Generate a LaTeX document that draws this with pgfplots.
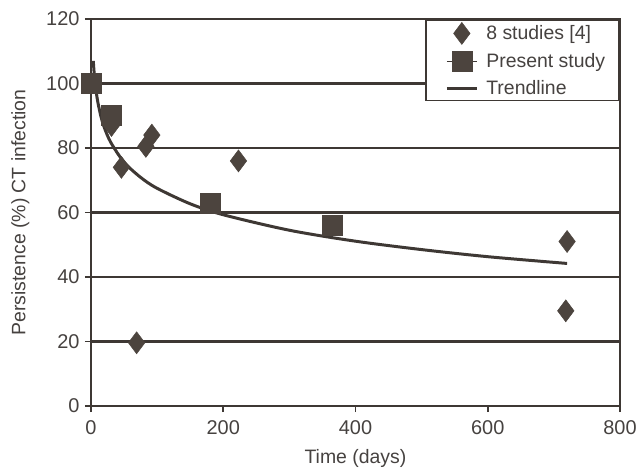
\documentclass[border=0pt]{standalone}
\usepackage{fontspec}
\setmainfont{Liberation Sans}
\usepackage{pgfplots}
\pgfplotsset{compat=1.18}
\definecolor{ink}{RGB}{62,56,52}
\definecolor{markfill}{RGB}{76,68,62}
\definecolor{txt}{RGB}{70,66,64}

\pgfplotsset{
    diamleg/.style={legend image code/.code={
        \path (-7bp,0bp) (36bp,0bp);
        \draw[##1] plot coordinates {(15bp,0bp)};}},
    squareleg/.style={legend image code/.code={
        \path (-7bp,0bp) (36bp,0bp);
        \draw[ink, line width=1.5pt] (0bp,0bp)--(30bp,0bp);
        \draw[##1] plot coordinates {(15bp,0bp)};}},
    trendleg/.style={legend image code/.code={
        \path (-7bp,0bp) (36bp,0bp);
        \draw[##1] (0bp,0bp)--(30bp,0bp);}},
}

\begin{document}
\begin{tikzpicture}
\useasboundingbox (-91bp,-64bp) rectangle (545bp,406bp);
\begin{axis}[
    at={(0,0)}, anchor=south west,
    scale only axis,
    width=529bp, height=387bp,
    xmin=0, xmax=800, ymin=0, ymax=120,
    xtick={0,200,400,600,800},
    ytick={0,20,40,60,80,100,120},
    tick pos=left,
    tick align=outside,
    major tick length=6bp,
    tick style={ink, line width=1.6pt},
    axis line style={ink, line width=2.2pt},
    ymajorgrids,
    grid style={ink, line width=2.2pt},
    clip=false,
    tick label style={font=\fontsize{20}{24}\selectfont, text=txt},
    xticklabel style={yshift=-5bp},
    yticklabel style={xshift=-2bp},
    /pgf/number format/assume math mode=true,
    xlabel={Time (days)},
    ylabel={Persistence (\%) CT infection},
    label style={font=\fontsize{19.5}{23}\selectfont, text=txt},
    ylabel style={yshift=10bp},
    xlabel style={yshift=-8bp},
    legend style={
        at={(1,1)}, anchor=north east,
        draw=ink, line width=1.8pt,
        fill=white,
        font=\fontsize{19.5}{23}\selectfont,
        text=txt,
        row sep=7bp,
        inner xsep=12bp, inner ysep=2.5bp,
    },
    legend cell align=left,
]
% 8 studies [4]
\addplot[only marks, mark=diamond*, mark size=11bp,
    mark options={fill=markfill, draw=markfill, line width=0.5pt}, diamleg]
    coordinates {
    (31,87)(46,74)(83,80.5)(92,84)(223,76)(69,19.6)(720,51)(718,29.5)
};
\addlegendentry{8 studies [4]}

% Present study
\addplot[only marks, mark=square*, mark size=10bp,
    mark options={fill=markfill, draw=markfill, line width=0.5pt}, squareleg]
    coordinates {
    (1,100)(31,90)(180,63)(365,56)
};
\addlegendentry{Present study}

% Trendline (logarithmic)
\addplot[ink, line width=3pt, smooth, trendleg]
    coordinates {
    (3.5,107)(4,105.4)(5,102.8)(7,98.8)(10,94.6)(15,89.8)(20,86.4)
    (30,81.7)(50,75.6)(75,70.9)(100,67.5)(150,62.7)(200,59.3)
    (300,54.5)(400,51.1)(500,48.5)(600,46.3)(720,44.2)
};
\addlegendentry{Trendline}
\end{axis}
\end{tikzpicture}
\end{document}
